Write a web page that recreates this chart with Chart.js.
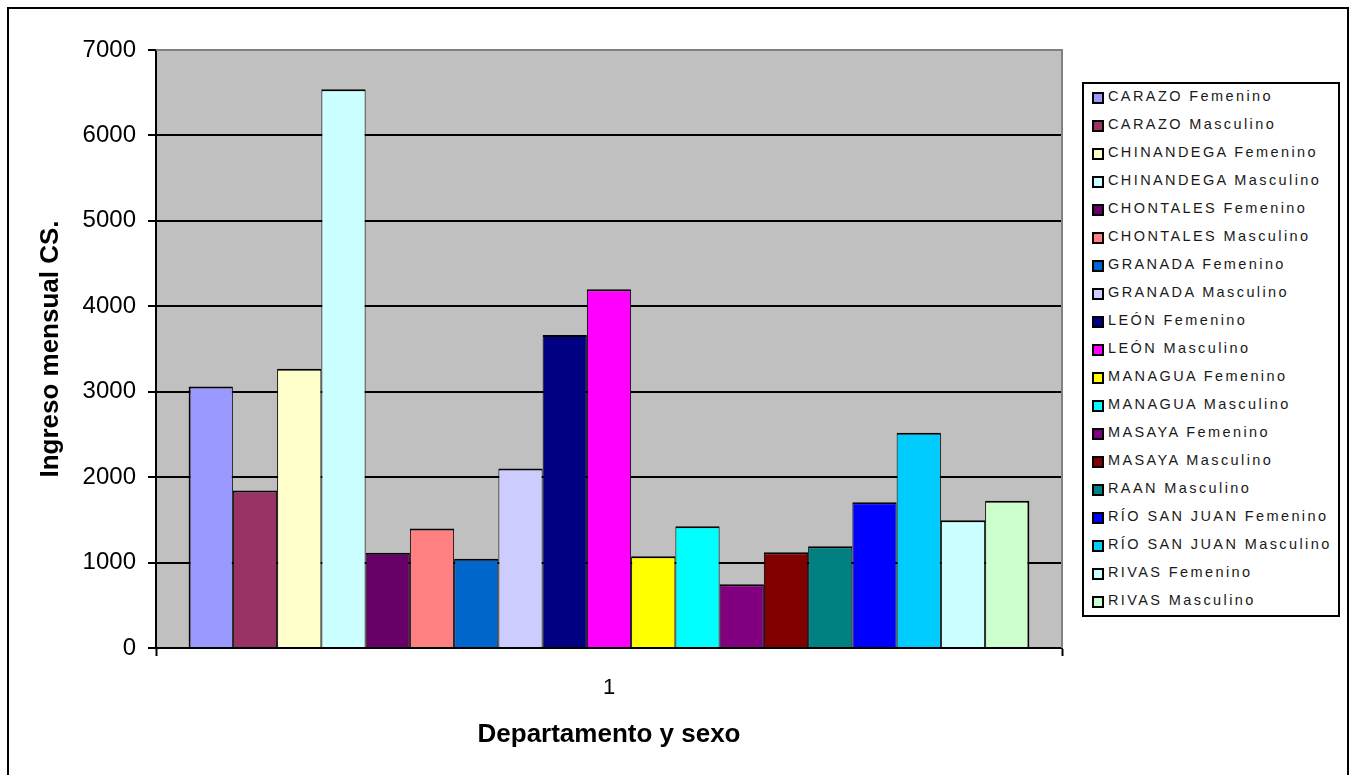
<!DOCTYPE html>
<html>
<head>
<meta charset="utf-8">
<script src="https://cdn.jsdelivr.net/npm/chart.js@4/dist/chart.umd.min.js"></script>
<style>
  html, body { margin: 0; padding: 0; background: #fff; overflow: hidden; }
  #wrap { position: relative; width: 1353px; height: 775px; }
  #frame { position: absolute; left: 7px; top: 7px; width: 1342px; height: 800px; border: 2px solid #000; box-sizing: border-box; }
  #chart { position: absolute; left: 0; top: 0; }
  #legend-box { position: absolute; left: 1082px; top: 82px; width: 258px; height: 535px; border: 2px solid #000; box-sizing: border-box; background: #fff; }
  #legend { position: absolute; left: 1092px; top: 81.5px; margin: 0; padding: 0; list-style: none;
    font-family: Arial, "Liberation Sans", sans-serif; font-size: 14.5px; letter-spacing: 2.4px; color: #1a1a1a; }
  #legend li { height: 28px; line-height: 28px; white-space: nowrap; position: relative; padding-left: 16px; }
  #legend li span.sw { position: absolute; left: 0; top: 10.8px; width: 12px; height: 12px; box-sizing: border-box; border: 2px solid #000; }
</style>
</head>
<body>
<div id="wrap">
  <div id="frame"></div>
  <canvas id="chart" width="1353" height="775"></canvas>
  <div id="legend-box"></div>
  <ul id="legend"></ul>
</div>
<script>
//categories on the x axis
const categories = ["1"];
//series (departamento + sexo)
const seriesNames = [
  "CARAZO Femenino",
  "CARAZO Masculino",
  "CHINANDEGA Femenino",
  "CHINANDEGA Masculino",
  "CHONTALES Femenino",
  "CHONTALES Masculino",
  "GRANADA Femenino",
  "GRANADA Masculino",
  "LEÓN Femenino",
  "LEÓN Masculino",
  "MANAGUA Femenino",
  "MANAGUA Masculino",
  "MASAYA Femenino",
  "MASAYA Masculino",
  "RAAN Masculino",
  "RÍO SAN JUAN Femenino",
  "RÍO SAN JUAN Masculino",
  "RIVAS Femenino",
  "RIVAS Masculino",
];
//ingreso mensual for each series
const ingresos = [3060, 1845, 3270, 6540, 1115, 1400, 1045, 2100, 3665, 4200, 1075, 1425, 745, 1120, 1190, 1705, 2520, 1495, 1725];
//fill colour for each series
const seriesColors = [
  "#9999ff", "#993366", "#ffffcc", "#ccffff", "#660066",
  "#ff8080", "#0066cc", "#ccccff", "#000080", "#ff00ff",
  "#ffff00", "#00ffff", "#800080", "#800000", "#008080",
  "#0000ff", "#00ccff", "#ccffff", "#ccffcc",
];
//y axis ticks
const yMin = 0;
const yMax = 7000;
const yStep = 1000;

const FONT = 'Arial, "Liberation Sans", sans-serif';

//grey plot area with grey top/right edge
const plotArea = {
  id: "plotArea",
  beforeDraw(chart) {
    const { ctx, chartArea: a } = chart;
    ctx.save();
    ctx.fillStyle = "#c0c0c0";
    ctx.fillRect(a.left, a.top, a.right - a.left, a.bottom - a.top);
    ctx.restore();
  },
  afterDatasetsDraw(chart) {
    const { ctx, chartArea: a } = chart;
    ctx.save();
    ctx.strokeStyle = "#808080";
    ctx.lineWidth = 2;
    ctx.beginPath();
    ctx.moveTo(a.left, a.top);
    ctx.lineTo(a.right, a.top);
    ctx.lineTo(a.right, a.bottom);
    ctx.stroke();
    ctx.restore();
  },
};

const datasets = seriesNames.map((name, i) => ({
  label: name,
  data: [ingresos[i]],
  backgroundColor: seriesColors[i],
  borderColor: "#000",
  borderWidth: { top: 2, left: i === 0 ? 2 : 1, right: i === seriesNames.length - 1 ? 2 : 1, bottom: 0 },
  barPercentage: 1,
  categoryPercentage: 0.928,
}));

new Chart(document.getElementById("chart"), {
  type: "bar",
  data: { labels: categories, datasets: datasets },
  plugins: [plotArea],
  options: {
    responsive: false,
    animation: false,
    layout: { padding: { top: 50, right: 291, bottom: 0, left: 0 } },
    plugins: {
      legend: { display: false },
      tooltip: { enabled: false },
    },
    scales: {
      x: {
        grid: { drawOnChartArea: false, tickLength: 8, tickWidth: 2, tickColor: "#000", color: "#000" },
        border: { color: "#000", width: 2 },
        ticks: { color: "#000", font: { family: FONT, size: 22 }, padding: 19 },
        title: {
          display: true,
          text: "Departamento y sexo",
          color: "#000",
          font: { family: FONT, size: 26, weight: "bold" },
          padding: { top: 0, bottom: 25 },
        },
        afterFit: (s) => { s.height = 127; },
      },
      y: {
        min: yMin,
        max: yMax,
        ticks: {
          stepSize: yStep,
          color: "#000",
          font: { family: FONT, size: 24 },
          padding: 12,
          callback: (v) => String(v),
        },
        grid: {
          color: (c) => (c.tick && c.tick.value === yMax ? "#808080" : "#000"),
          lineWidth: 2,
          tickColor: "#000",
          tickLength: 8,
          tickWidth: 2,
        },
        border: { color: "#000", width: 2 },
        title: {
          display: true,
          text: "Ingreso mensual CS.",
          color: "#000",
          font: { family: FONT, size: 26, weight: "bold" },
          padding: { top: 35, bottom: 0 },
        },
        afterFit: (s) => { s.width = 156; },
      },
    },
  },
});

//legend as list, same order as the bars
const legend = document.getElementById("legend");
seriesNames.forEach((name, i) => {
  const li = document.createElement("li");
  const sw = document.createElement("span");
  sw.className = "sw";
  sw.style.background = seriesColors[i];
  li.appendChild(sw);
  li.appendChild(document.createTextNode(name));
  legend.appendChild(li);
});
</script>
</body>
</html>
